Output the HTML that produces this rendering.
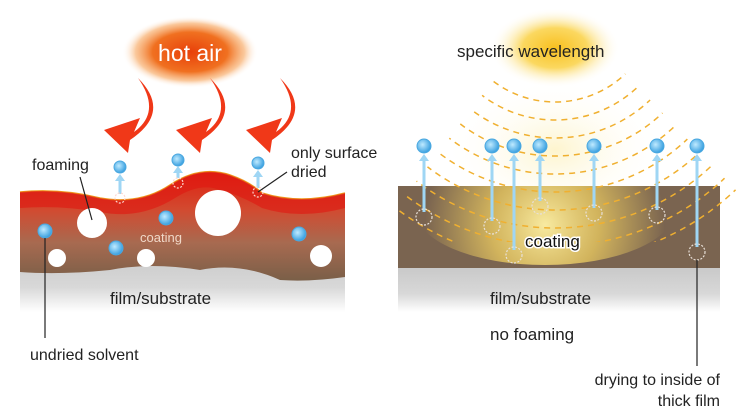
<!DOCTYPE html>
<html><head><meta charset="utf-8"><style>
html,body{margin:0;padding:0;background:#fff;}
svg{display:block;font-family:"Liberation Sans",sans-serif;}
</style></head><body>
<svg width="740" height="417" viewBox="0 0 740 417" xmlns="http://www.w3.org/2000/svg">
<defs>
<radialGradient id="hot" cx="0.5" cy="0.5" r="0.5">
<stop offset="0" stop-color="#e8400a"/><stop offset="0.55" stop-color="#f07020"/><stop offset="0.8" stop-color="#f8b070" stop-opacity="0.7"/><stop offset="1" stop-color="#fff" stop-opacity="0"/>
</radialGradient>
<radialGradient id="sun" cx="0.5" cy="0.5" r="0.5">
<stop offset="0" stop-color="#f8c020"/><stop offset="0.5" stop-color="#fbd860"/><stop offset="1" stop-color="#fff" stop-opacity="0"/>
</radialGradient>
<radialGradient id="glow" cx="545" cy="225" r="120" gradientUnits="userSpaceOnUse">
<stop offset="0" stop-color="#f8eaa0"/><stop offset="0.45" stop-color="#e8c860" stop-opacity="0.8"/><stop offset="1" stop-color="#e8c860" stop-opacity="0"/>
</radialGradient>
<radialGradient id="airglow" cx="0.5" cy="0.5" r="0.5">
<stop offset="0" stop-color="#fdf0b8" stop-opacity="0.7"/><stop offset="1" stop-color="#fff" stop-opacity="0"/>
</radialGradient>
<linearGradient id="coatL" x1="0" y1="0" x2="0" y2="1">
<stop offset="0" stop-color="#e02010"/><stop offset="0.35" stop-color="#d24a30"/><stop offset="0.65" stop-color="#a86a50"/><stop offset="1" stop-color="#7a5f48"/>
</linearGradient>
<linearGradient id="film" x1="0" y1="0" x2="0" y2="1">
<stop offset="0" stop-color="#c8c8c8"/><stop offset="0.6" stop-color="#d8d8d8"/><stop offset="1" stop-color="#fff"/>
</linearGradient>
<radialGradient id="bd" cx="0.4" cy="0.4" r="0.6">
<stop offset="0" stop-color="#bfeaff"/><stop offset="1" stop-color="#3aa0e0"/>
</radialGradient>
<clipPath id="rc"><polygon points="555,0 370,242 750,242 750,205"/></clipPath>
<clipPath id="rr"><rect x="398" y="186" width="322" height="82"/></clipPath>
</defs>

<!-- LEFT -->
<ellipse cx="190" cy="52" rx="68" ry="36" fill="url(#hot)"/>
<text x="190" y="61" font-size="23" fill="#fff" text-anchor="middle">hot air</text>

<g fill="#f03818">
<path d="M138 78 Q162 112 134 132 L140 118 L104 130 L128 153 L130 140 Q172 112 138 78Z"/>
<path d="M210 78 Q234 112 206 132 L212 118 L176 130 L200 153 L202 140 Q244 112 210 78Z"/>
<path d="M280 78 Q304 112 276 132 L282 118 L246 130 L270 153 L272 140 Q314 112 280 78Z"/>
</g>

<rect x="20" y="250" width="325" height="62" fill="url(#film)"/>
<path d="M20 192 Q60 188 100 198 Q140 205 170 185 Q200 165 230 175 Q250 182 262 193 Q300 205 345 193 L345 277 Q310 282 280 280 Q240 262 200 270 Q150 262 110 270 Q60 275 20 272Z" fill="url(#coatL)"/>
<path d="M20 192 Q60 188 100 198 Q140 205 170 185 Q200 165 230 175 Q250 182 262 193 Q300 205 345 193" fill="none" stroke="#f0a020" stroke-width="1.5"/>
<path d="M20 192 Q60 188 100 198 Q140 205 170 185 Q200 165 230 175 Q250 182 262 193 Q300 205 345 193 L345 208 Q300 220 262 208 Q240 195 220 190 Q200 182 175 198 Q140 220 100 212 Q60 205 20 208Z" fill="#e01810" opacity="0.6"/>

<g fill="#fff">
<circle cx="92" cy="223" r="15"/><circle cx="218" cy="213" r="23"/>
<circle cx="57" cy="258" r="9"/><circle cx="146" cy="258" r="9"/><circle cx="321" cy="256" r="11"/>
</g>
<g fill="url(#bd)" stroke="#4aa8e0" stroke-width="1">
<circle cx="45" cy="231" r="7"/><circle cx="166" cy="218" r="7"/><circle cx="116" cy="248" r="7"/><circle cx="299" cy="234" r="7"/>
<circle cx="120" cy="167" r="6"/><circle cx="178" cy="160" r="6"/><circle cx="258" cy="163" r="6"/>
</g>
<g stroke="#9fd6f4" stroke-width="3" fill="#9fd6f4">
<line x1="120" y1="194" x2="120" y2="180"/><line x1="178" y1="178" x2="178" y2="172"/><line x1="258" y1="188" x2="258" y2="176"/>
</g>
<g fill="#9fd6f4"><path d="M115 181 L120 174 L125 181Z"/><path d="M173 173 L178 166 L183 173Z"/><path d="M253 177 L258 170 L263 177Z"/></g>
<g fill="none" stroke="#ffd8d0" stroke-width="1.2" stroke-dasharray="2 1.5">
<circle cx="120" cy="198" r="5"/><circle cx="178" cy="183" r="5"/><circle cx="258" cy="192" r="5"/>
</g>
<text x="140" y="242" font-size="13" fill="#f0d8c8">coating</text>
<text x="32" y="170" font-size="16" fill="#222">foaming</text>
<line x1="80" y1="177" x2="92" y2="220" stroke="#222" stroke-width="1.2"/>
<text x="291" y="158" font-size="16" fill="#222">only surface</text>
<text x="291" y="177" font-size="16" fill="#222">dried</text>
<line x1="287" y1="172" x2="258" y2="192" stroke="#222" stroke-width="1.2"/>
<text x="110" y="304" font-size="17" fill="#222">film/substrate</text>
<line x1="45" y1="238" x2="45" y2="338" stroke="#222" stroke-width="1.2"/>
<text x="30" y="360" font-size="16" fill="#222">undried solvent</text>

<!-- RIGHT -->
<ellipse cx="555" cy="48" rx="65" ry="40" fill="url(#sun)"/>
<ellipse cx="555" cy="150" rx="110" ry="70" fill="url(#airglow)"/>
<text x="457" y="57" font-size="17" fill="#222">specific wavelength</text>
<rect x="398" y="266" width="322" height="46" fill="url(#film)"/>
<rect x="398" y="186" width="322" height="82" fill="#7a6450"/>
<ellipse cx="545" cy="210" rx="130" ry="55" fill="url(#glow)" clip-path="url(#rr)"/>
<g fill="none" stroke="#f0b030" stroke-width="1.5" stroke-dasharray="6 5" clip-path="url(#rc)">
<circle cx="555" cy="0" r="102"/><circle cx="555" cy="0" r="120"/><circle cx="555" cy="0" r="138"/>
<circle cx="555" cy="0" r="156"/><circle cx="555" cy="0" r="174"/><circle cx="555" cy="0" r="192"/>
<circle cx="555" cy="0" r="210"/><circle cx="555" cy="0" r="228"/><circle cx="555" cy="0" r="246"/><circle cx="555" cy="0" r="262"/>
</g>
<g stroke="#9fd6f4" stroke-width="3">
<line x1="424" y1="212" x2="424" y2="160"/><line x1="492" y1="221" x2="492" y2="160"/><line x1="514" y1="250" x2="514" y2="160"/>
<line x1="540" y1="201" x2="540" y2="160"/><line x1="594" y1="208" x2="594" y2="160"/><line x1="657" y1="210" x2="657" y2="160"/><line x1="697" y1="247" x2="697" y2="160"/>
</g>
<g fill="#9fd6f4">
<path d="M419 161 L424 154 L429 161Z"/><path d="M487 161 L492 154 L497 161Z"/><path d="M509 161 L514 154 L519 161Z"/>
<path d="M535 161 L540 154 L545 161Z"/><path d="M589 161 L594 154 L599 161Z"/><path d="M652 161 L657 154 L662 161Z"/><path d="M692 161 L697 154 L702 161Z"/>
</g>
<g fill="url(#bd)" stroke="#4aa8e0" stroke-width="1">
<circle cx="424" cy="146" r="7"/><circle cx="492" cy="146" r="7"/><circle cx="514" cy="146" r="7"/><circle cx="540" cy="146" r="7"/>
<circle cx="594" cy="146" r="7"/><circle cx="657" cy="146" r="7"/><circle cx="697" cy="146" r="7"/>
</g>
<g fill="none" stroke="#e8e0d8" stroke-width="1.2" stroke-dasharray="2 1.5">
<circle cx="424" cy="217" r="8"/><circle cx="492" cy="226" r="8"/><circle cx="514" cy="255" r="8"/><circle cx="540" cy="206" r="8"/>
<circle cx="594" cy="213" r="8"/><circle cx="657" cy="215" r="8"/><circle cx="697" cy="252" r="8"/>
</g>
<text x="525" y="247" font-size="17" fill="#111" stroke="#fff" stroke-width="3" paint-order="stroke">coating</text>
<text x="490" y="304" font-size="17" fill="#222">film/substrate</text>
<text x="490" y="340" font-size="17" fill="#222">no foaming</text>
<line x1="697" y1="260" x2="697" y2="366" stroke="#222" stroke-width="1.2"/>
<text x="720" y="385" font-size="16" fill="#222" text-anchor="end">drying to inside of</text>
<text x="720" y="406" font-size="16" fill="#222" text-anchor="end">thick film</text>
</svg>
</body></html>
